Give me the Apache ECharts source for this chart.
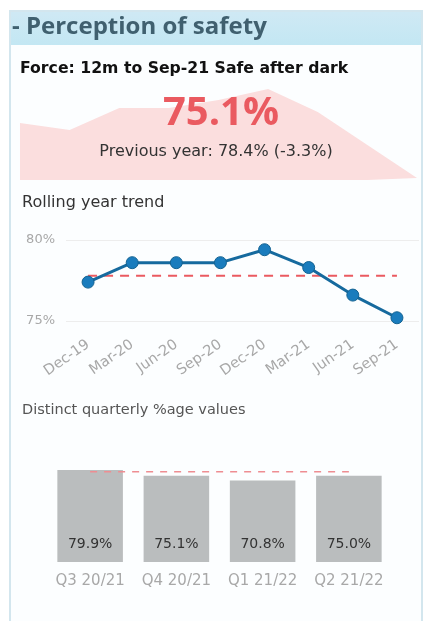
<!DOCTYPE html>
<html>
<head>
<meta charset="utf-8">
<script src="https://cdn.jsdelivr.net/npm/echarts@6/dist/echarts.min.js"></script>
<style>
    html, body { margin: 0; padding: 0; background: #fff; }
    #chart_main { width: 430px; height: 621px; }
</style>
</head>
<body>
<div id="chart_main"></div>
<script>
// sparkline behind the headline figure
var sparkValues = [57, 50, 72, 72, 80, 91, 68, 35, 2];

// rolling year trend
var months = ['Dec-19', 'Mar-20', 'Jun-20', 'Sep-20', 'Dec-20', 'Mar-21', 'Jun-21', 'Sep-21'];
var rollingValues = [77.4, 78.6, 78.6, 78.6, 79.4, 78.3, 76.6, 75.2];
var rollingRef = 77.8;
var rollingTicks = [75, 80];

// distinct quarterly values
var quarters = ['Q3 20/21', 'Q4 20/21', 'Q1 21/22', 'Q2 21/22'];
var quarterValues = [79.9, 75.1, 70.8, 75.0];
var quarterRef = 78.4;

var HEAD_FONT = "'Open Sans', 'Noto Sans', sans-serif";
var FONT = "'DejaVu Sans', sans-serif";

var mychart = echarts.init(document.getElementById('chart_main'));
mychart.setOption({
    animation: false,
    textStyle: { fontFamily: FONT },
    graphic: [
        {
            type: 'rect', z: 0,
            shape: { x: 10, y: 11, width: 412, height: 612 },
            style: { fill: '#fcfeff', stroke: '#d3e6ee', lineWidth: 2 }
        },
        {
            type: 'rect', z: 0,
            shape: { x: 11, y: 12, width: 410, height: 33 },
            style: {
                fill: new echarts.graphic.LinearGradient(0, 0, 0, 1, [
                    { offset: 0, color: '#cfe9f4' },
                    { offset: 1, color: '#c3e7f3' }
                ])
            }
        }
    ],
    title: [
        {
            text: '- Perception of safety', left: 12, top: 15, padding: 0,
            textStyle: { fontSize: 24, fontWeight: 'bold', color: '#40606f', fontFamily: HEAD_FONT }
        },
        {
            text: 'Force: 12m to Sep-21 Safe after dark', left: 20, top: 61, padding: 0,
            textStyle: { fontSize: 15.7, fontWeight: 'bold', color: '#111', fontFamily: FONT }
        },
        {
            text: '75.1%', left: 221, top: 94, padding: 0, textAlign: 'center',
            textStyle: { fontSize: 40, fontWeight: 'bold', color: '#ea5a60', fontFamily: HEAD_FONT }
        },
        {
            text: 'Previous year: 78.4% (-3.3%)', left: 216, top: 144, padding: 0, textAlign: 'center',
            textStyle: { fontSize: 16, fontWeight: 'normal', color: '#333', fontFamily: FONT }
        },
        {
            text: 'Rolling year trend', left: 22, top: 195, padding: 0,
            textStyle: { fontSize: 16, fontWeight: 'normal', color: '#333', fontFamily: FONT }
        },
        {
            text: 'Distinct quarterly %age values', left: 22, top: 403, padding: 0,
            textStyle: { fontSize: 14.5, fontWeight: 'normal', color: '#555', fontFamily: FONT }
        }
    ],
    grid: [
        { left: 20, right: 13, top: 89, height: 91 },
        { left: 66, width: 353, top: 240, height: 81 },
        { left: 47, width: 345, top: 447, height: 115 }
    ],
    xAxis: [
        {
            gridIndex: 0, type: 'category', boundaryGap: false, show: false,
            data: sparkValues.map(function (v, i) { return i; })
        },
        {
            gridIndex: 1, type: 'category', boundaryGap: true, data: months,
            axisLine: { show: false }, axisTick: { show: false },
            axisLabel: { rotate: 35, color: '#a8a8a8', fontSize: 14.5, margin: 22, interval: 0 }
        },
        {
            gridIndex: 2, type: 'category', boundaryGap: true, data: quarters,
            axisLine: { show: false }, axisTick: { show: false },
            axisLabel: { color: '#a8a8a8', fontSize: 15, margin: 12, interval: 0 }
        }
    ],
    yAxis: [
        { gridIndex: 0, type: 'value', min: 0, max: 91, show: false },
        {
            gridIndex: 1, type: 'value', min: rollingTicks[0], max: rollingTicks[1], interval: 5,
            axisLine: { show: false }, axisTick: { show: false },
            axisLabel: { color: '#a8a8a8', fontSize: 13, margin: 11, formatter: '{value}%' },
            splitLine: { lineStyle: { color: '#ededed', width: 1 } }
        },
        { gridIndex: 2, type: 'value', min: 0, max: 100, show: false }
    ],
    series: [
        {
            name: 'spark', type: 'line', xAxisIndex: 0, yAxisIndex: 0,
            data: sparkValues, symbol: 'none',
            lineStyle: { width: 0 },
            areaStyle: { color: '#fbdede', opacity: 1 },
            z: 1
        },
        {
            name: 'ref', type: 'line', xAxisIndex: 1, yAxisIndex: 1,
            data: months.map(function () { return rollingRef; }),
            symbol: 'none',
            lineStyle: { color: '#ea5a60', width: 2, type: [9, 7] }
        },
        {
            name: 'rolling', type: 'line', xAxisIndex: 1, yAxisIndex: 1,
            data: rollingValues, symbol: 'circle', symbolSize: 12,
            lineStyle: { color: '#166a9e', width: 3 },
            itemStyle: { color: '#1a7cbd', borderColor: '#146392', borderWidth: 1 },
            z: 3
        },
        {
            name: 'quarterly', type: 'bar', xAxisIndex: 2, yAxisIndex: 2,
            data: quarterValues, barCategoryGap: '24%',
            itemStyle: { color: '#babdbe' },
            label: {
                show: true, position: 'insideBottom', distance: 11,
                color: '#333', fontSize: 14, fontFamily: FONT,
                formatter: function (p) { return p.value.toFixed(1) + '%'; }
            }
        },
        {
            name: 'quarterRef', type: 'line', xAxisIndex: 2, yAxisIndex: 2,
            data: quarters.map(function () { return quarterRef; }),
            symbol: 'none',
            lineStyle: { color: '#ee8d92', width: 1.5, type: [7, 7] },
            z: 3
        }
    ]
});
</script>
</body>
</html>
